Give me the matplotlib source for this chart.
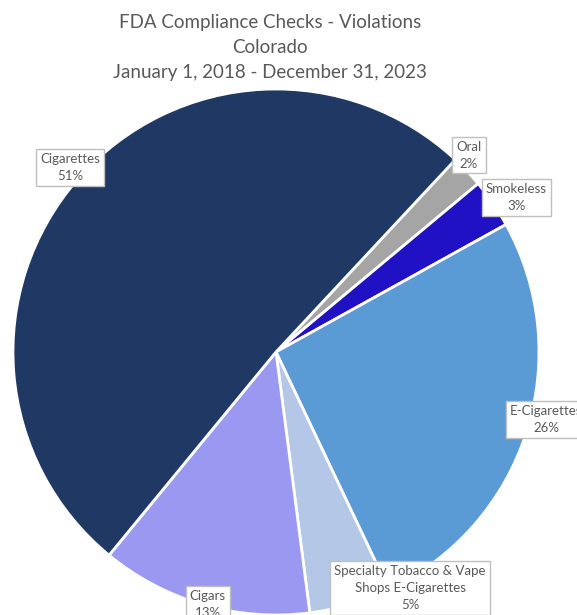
import matplotlib
matplotlib.use("Agg")
import matplotlib.pyplot as plt

# Violation counts share by product (percent), drawn clockwise from Oral
categories = ["Oral", "Smokeless", "E-Cigarettes",
              "Specialty Tobacco & Vape\nShops E-Cigarettes", "Cigars", "Cigarettes"]
shares = [2, 3, 26, 5, 13, 51]
colors = ["#A5A5A5", "#2012C4", "#5B9BD5", "#B4C7E7", "#9A98F0", "#1F3864"]

# label box centres in pie data units (radius = 1)
label_pos = [(0.734, 0.749), (0.913, 0.589), (1.027, -0.255),
             (0.510, -0.897), (-0.259, -0.960), (-0.783, 0.700)]

plt.rcParams["font.family"] = ["Lato", "DejaVu Sans"]

fig = plt.figure(figsize=(5.77, 6.15), dpi=100)
ax = fig.add_axes([0.0225, 0.0, 0.9116, 0.8553])
ax.pie(shares, colors=colors, startangle=47, counterclock=False, radius=1,
       wedgeprops=dict(edgecolor="white", linewidth=2))
ax.set_xlim(-1, 1)
ax.set_ylim(-1, 1)
ax.set_aspect("equal")
ax.axis("off")

for cat, val, (x, y) in zip(categories, shares, label_pos):
    ax.text(x, y, f"{cat}\n{val}%", ha="center", va="center", fontsize=9.5,
            color="#595959", linespacing=1.5, clip_on=False,
            bbox=dict(boxstyle="square,pad=0.3", facecolor="white",
                      edgecolor="#BFBFBF", linewidth=1))

fig.text(0.468, 0.977, "FDA Compliance Checks - Violations\nColorado\nJanuary 1, 2018 - December 31, 2023",
         ha="center", va="top", fontsize=13.5, color="#595959", linespacing=1.55)

fig.savefig("out.png", dpi=100)
